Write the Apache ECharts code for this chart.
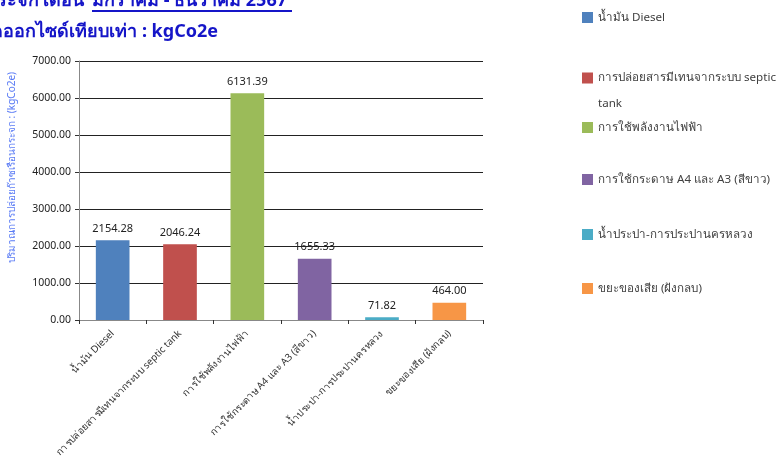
<!DOCTYPE html>
<html><head><meta charset="utf-8">
<script src="https://cdn.jsdelivr.net/npm/echarts@6/dist/echarts.min.js"></script>
<style>html,body{margin:0;padding:0;background:#fff}#c{width:780px;height:458px}</style>
</head><body><div id="c"></div>
<script>
const categories = ['น้ำมัน Diesel','การปล่อยสารมีเทนจากระบบ septic tank','การใช้พลังงานไฟฟ้า','การใช้กระดาษ A4 และ A3 (สีขาว)','น้ำประปา-การประปานครหลวง','ขยะของเสีย (ฝังกลบ)'];
const values = [2154.28, 2046.24, 6131.39, 1655.33, 71.82, 464.00];
const colors = ['#4f81bd','#c0504d','#9bbb59','#8064a2','#4bacc6','#f79646'];
const yTicks = {min:0, max:7000, interval:1000};
const titleLine1a = 'ปริมาณการปล่อยก๊าซเรือนกระจก เดือน ';
const titleLine1b = 'มกราคม - ธันวาคม 2567';
const titleLine2 = 'ปริมาณก๊าซคาร์บอนไดออกไซด์เทียบเท่า : kgCo2e';
const yName = 'ปริมาณการปล่อยก๊าซเรือนกระจก : (kgCo2e)';

const FONT = 'Tahoma, "Noto Sans", "DejaVu Sans", sans-serif';
const legendCenters = [17, 70.5, 127, 179, 234, 288];

const series = categories.map((name, i) => ({
  name, type: 'bar', stack: 'all', barWidth: '50%',
  itemStyle: {color: colors[i]},
  data: categories.map((c, j) => j === i ? values[i] : '-'),
  label: {show: true, position: 'top', distance: 6, color: '#222', fontSize: 11, fontFamily: FONT,
    formatter: p => Number(p.value).toFixed(2)}
}));

const legends = categories.map((name, i) => {
  const wrap = name.indexOf('septic') >= 0;
  return {
    data: [name], left: 582, top: legendCenters[i] - 5.5, padding: 0,
    itemWidth: 11, itemHeight: wrap ? 37 : 11, itemGap: 0,
    icon: wrap ? 'path://M0,0h11v11h-11zM0,36.99h0.01v0.01h-0.01z' : 'rect',
    formatter: n => n.replace(' tank', '\ntank'),
    textStyle: Object.assign({color: '#404040', fontSize: 11.6, fontFamily: FONT},
      wrap ? {lineHeight: 26} : {})
  };
});

const chart = echarts.init(document.getElementById('c'));
chart.setOption({
  animation: false,
  legend: legends,
  grid: {left: 79, right: 297, top: 61, bottom: 138, containLabel: false, outerBoundsMode: 'none'},
  xAxis: {
    type: 'category', data: categories,
    axisLine: {lineStyle: {color: '#888'}},
    axisTick: {show: true, length: 4, lineStyle: {color: '#333'}},
    axisLabel: {rotate: 45, interval: 0, fontSize: 9.8, color: '#333', fontFamily: FONT, margin: 12}
  },
  yAxis: {
    type: 'value', min: yTicks.min, max: yTicks.max, interval: yTicks.interval,
    name: yName, nameLocation: 'middle', nameGap: 62, nameRotate: 90,
    nameTextStyle: {color: '#5b7cf5', fontSize: 10, fontFamily: FONT, padding: [0, 0, 0, 46]},
    axisLine: {show: true, lineStyle: {color: '#888'}},
    axisTick: {show: true, length: 4, lineStyle: {color: '#333'}},
    axisLabel: {formatter: v => v.toFixed(2), fontSize: 10.5, color: '#222', fontFamily: FONT, margin: 8},
    splitLine: {lineStyle: {color: '#222', width: 1}}
  },
  graphic: [
    {type: 'text', x: 89, y: 1, style: {text: titleLine1a, align: 'right', verticalAlign: 'middle', fill: '#1515c8', font: 'bold 18px ' + FONT}},
    {type: 'text', x: 92, y: 1, style: {text: titleLine1b, align: 'left', verticalAlign: 'middle', fill: '#1515c8', font: 'bold 18px ' + FONT}},
    {type: 'line', shape: {x1: 92, y1: 11, x2: 292, y2: 11}, style: {stroke: '#1515c8', lineWidth: 2}},
    {type: 'text', x: 218, y: 32, style: {text: titleLine2, align: 'right', verticalAlign: 'middle', fill: '#1515c8', font: 'bold 18px ' + FONT}}
  ],
  series
});
</script></body></html>
